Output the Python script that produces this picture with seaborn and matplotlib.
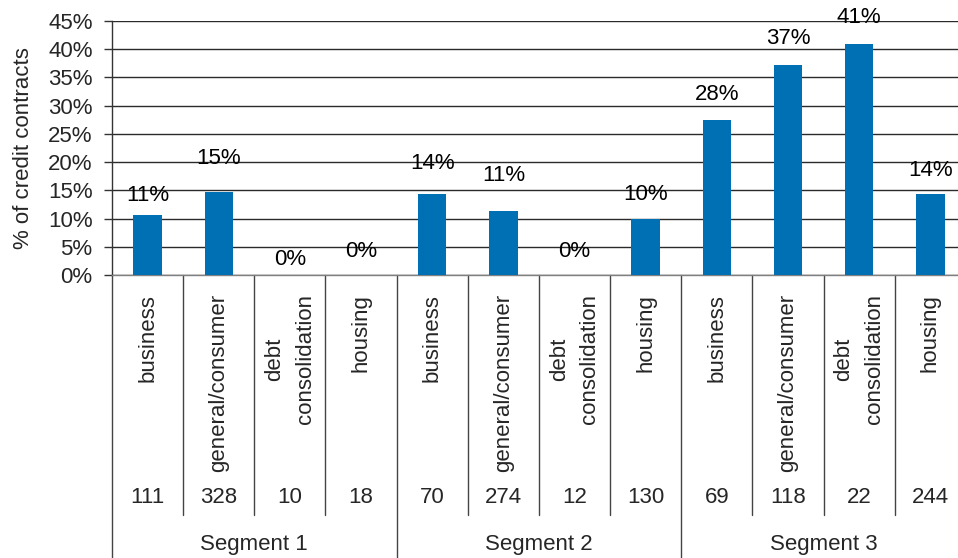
import pandas as pd
import seaborn as sns
import matplotlib.pyplot as plt
from matplotlib.ticker import PercentFormatter, MultipleLocator
import matplotlib.transforms as mtransforms

# data
segments = ["Segment 1", "Segment 2", "Segment 3"]
purposes = ["business", "general/consumer", "debt\nconsolidation", "housing"]
shares = [0.106, 0.147, 0.0, 0.0,
          0.143, 0.113, 0.0, 0.100,
          0.275, 0.372, 0.409, 0.143]
labels = ["11%", "15%", "0%", "0%",
          "14%", "11%", "0%", "10%",
          "28%", "37%", "41%", "14%"]
counts = [111, 328, 10, 18, 70, 274, 12, 130, 69, 118, 22, 244]

# where each value label sits above its bar (points), as placed in the original
label_offsets = [14, 24, 11.5, 17, 22, 26, 17, 17, 18, 19, 19, 17]

sns.set_theme(style="white")
plt.rcParams["font.family"] = ["Liberation Sans", "DejaVu Sans"]
FS = 16

df = pd.DataFrame({
    "pos": range(len(shares)),
    "share": shares,
    "purpose": purposes * len(segments),
    "segment": [s for s in segments for _ in purposes],
})

fig = plt.figure(figsize=(9.58, 5.58), dpi=100)
ax = fig.add_axes([0.1169, 0.5072, 0.8914, 0.4552])

sns.barplot(data=df, x="pos", y="share", color="#0070B4", width=0.4,
            saturation=1, linewidth=0, ax=ax, zorder=3)
for i, (s, lab) in enumerate(zip(shares, labels)):
    ax.annotate(lab, (i, s), xytext=(0, label_offsets[i]), textcoords="offset points",
                ha="center", va="center", fontsize=FS, color="black", zorder=4)

ax.set_xlim(-0.5, len(shares) - 0.5)
ax.set_ylim(0, 0.45)
ax.yaxis.set_major_locator(MultipleLocator(0.05))
ax.yaxis.set_major_formatter(PercentFormatter(1.0, decimals=0))
ax.grid(axis="y", color="#2a2a2a", linewidth=1.0, zorder=0)
ax.set_axisbelow(True)
ax.tick_params(axis="y", left=True, length=6, width=1, color="#333333",
               labelsize=FS, pad=8)
ax.set_xticks([])
ax.set_xlabel("")
ax.set_ylabel("% of credit contracts", fontsize=FS, labelpad=10)
for side in ["top", "right"]:
    ax.spines[side].set_visible(False)
ax.spines["left"].set_color("#333333")
ax.spines["bottom"].set_color("#808080")
ax.spines["left"].set_linewidth(1.0)
ax.spines["bottom"].set_linewidth(1.0)

# table under the axis: purpose names, counts, segment names
trans = mtransforms.blended_transform_factory(ax.transData, ax.transAxes)
n_per = len(purposes)
for i in range(len(shares) + 1):
    bottom = -1.114 if i % n_per == 0 else -0.945
    ax.plot([i - 0.5, i - 0.5], [0, bottom], color="#444444", lw=1.0,
            transform=trans, clip_on=False)
for i, row in df.iterrows():
    ax.text(row["pos"], -0.075, row["purpose"], transform=trans, rotation=90,
            ha="center", va="top", multialignment="center", linespacing=1.6,
            fontsize=FS)
    ax.text(row["pos"], -0.878, str(counts[i]), transform=trans,
            ha="center", va="center", fontsize=FS)
for k, seg in enumerate(segments):
    mid = k * n_per + (n_per - 1) / 2
    ax.text(mid, -1.063, seg, transform=trans, ha="center", va="center", fontsize=FS)

fig.savefig("out.png", dpi=100)
